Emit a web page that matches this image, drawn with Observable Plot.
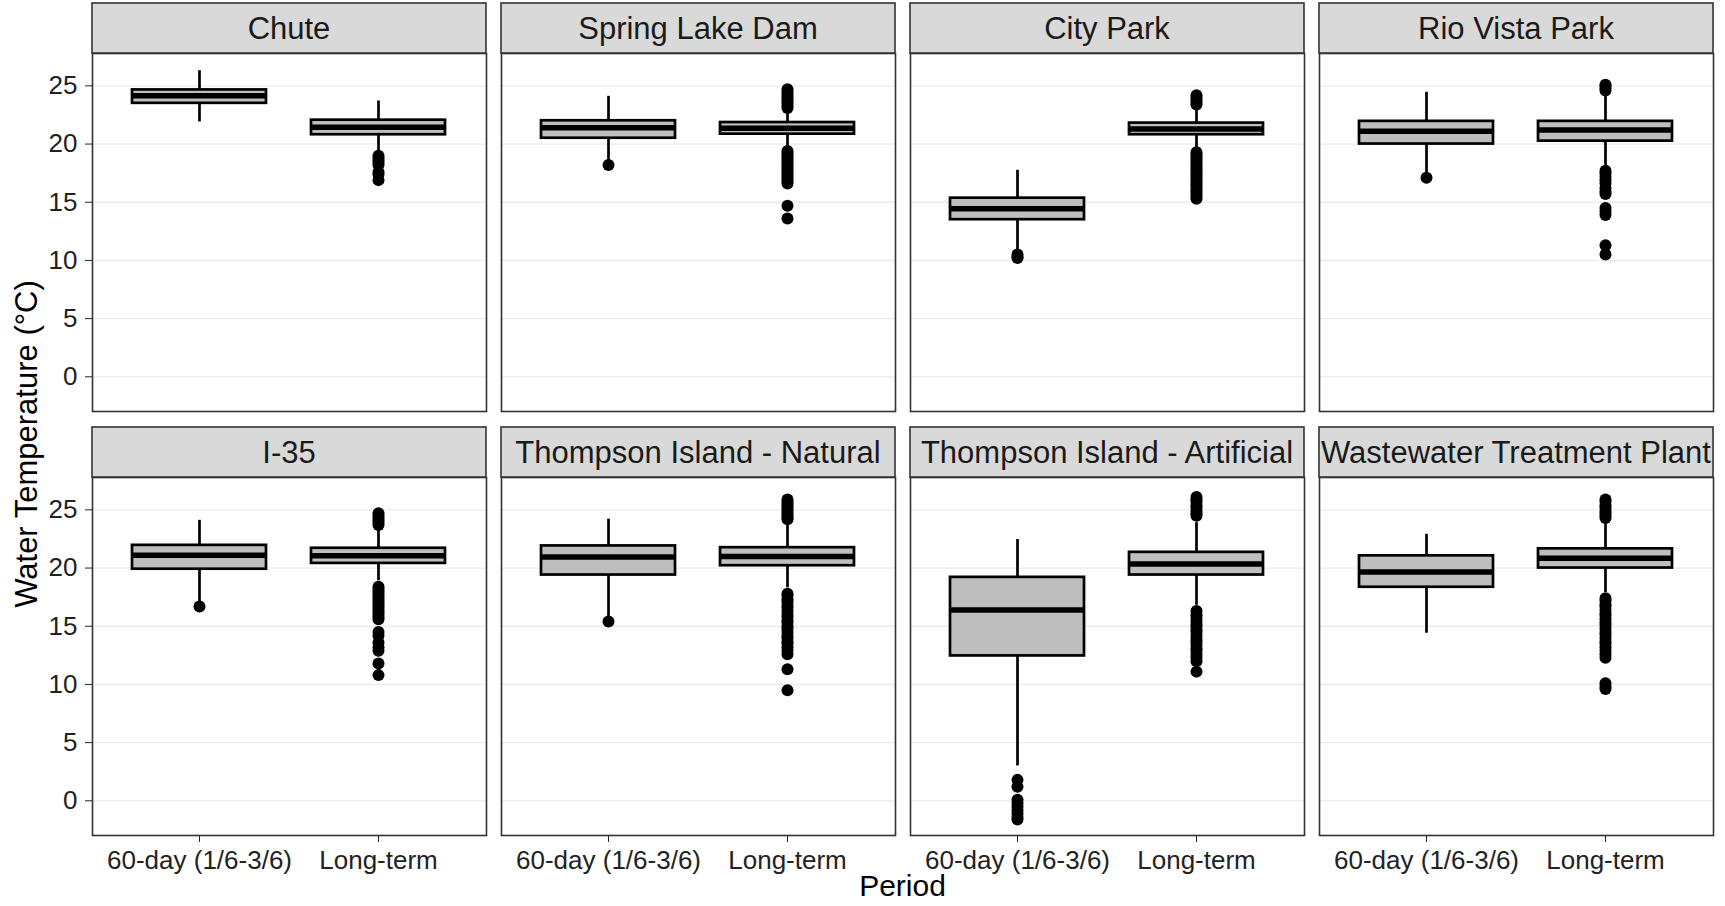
<!DOCTYPE html>
<html><head><meta charset="utf-8">
<script src="https://cdn.jsdelivr.net/npm/d3@7"></script>
<script src="https://cdn.jsdelivr.net/npm/@observablehq/plot@0.6"></script>
<style>
html,body{margin:0;padding:0;background:#fff;}
#chart{width:1725px;height:906px;}
</style></head><body><div id="chart"></div>
<script>
const sites = ["Chute", "Spring Lake Dam", "City Park", "Rio Vista Park",
  "I-35", "Thompson Island - Natural", "Thompson Island - Artificial", "Wastewater Treatment Plant"];
const periods = ["60-day (1/6-3/6)", "Long-term"];
const yTicks = [0, 5, 10, 15, 20, 25];
const xTitle = "Period";
const yTitle = "Water Temperature (°C)";

// [60-day, Long-term] per site
const whiskerLow  = [[21.9, 19.3], [18.5, 19.8], [10.9, 19.7], [17.5, 18.1], [17.0, 18.9], [15.8, 18.3], [3.0, 16.8], [14.4, 17.9]];
const q1          = [[23.5, 20.8], [20.5, 20.85], [13.5, 20.8], [20.0, 20.25], [19.9, 20.4], [19.4, 20.2], [12.45, 19.4], [18.35, 20.0]];
const median      = [[24.15, 21.45], [21.4, 21.35], [14.45, 21.3], [21.1, 21.2], [21.1, 21.05], [20.95, 21.0], [16.4, 20.35], [19.65, 20.85]];
const q3          = [[24.65, 22.05], [22.0, 21.85], [15.35, 21.8], [21.95, 21.95], [21.95, 21.7], [21.9, 21.75], [19.2, 21.35], [21.05, 21.65]];
const whiskerHigh = [[26.3, 23.7], [24.1, 22.9], [17.75, 22.9], [24.45, 24.1], [24.1, 23.4], [24.2, 23.65], [22.45, 23.9], [22.9, 23.8]];

const outliers60 = [
  [],
  [18.2],
  [10.5, 10.3, 10.2],
  [17.1],
  [16.7],
  [15.4],
  [1.8, 1.2, 0.1, -0.2, -0.5, -0.8, -1.1, -1.4, -1.6],
  []
];
const outliersLT = [
  [19.0, 18.8, 18.6, 18.4, 18.2, 17.6, 17.4, 16.9],
  [23.1, 23.3, 23.5, 23.7, 23.9, 24.1, 24.3, 24.5, 24.7,
   19.4, 19.2, 19.0, 18.8, 18.6, 18.4, 18.2, 18.0, 17.8, 17.6, 17.4, 17.2, 17.0, 16.8, 16.6, 14.7, 13.6],
  [24.2, 24.0, 23.8, 23.6, 23.4,
   19.3, 19.1, 18.9, 18.7, 18.5, 18.3, 18.1, 17.9, 17.7, 17.5, 17.3, 17.1, 16.9, 16.7, 16.5, 16.3, 16.1, 15.9, 15.7, 15.5, 15.3],
  [25.1, 25.0, 24.8, 24.6,
   17.7, 17.5, 17.2, 16.9, 16.6, 16.2, 15.9, 15.7, 14.5, 14.2, 13.9, 11.3, 10.5],
  [24.7, 24.5, 24.3, 24.1, 23.9, 23.7,
   18.4, 18.2, 18.0, 17.8, 17.6, 17.4, 17.2, 17.0, 16.8, 16.6, 16.4, 16.2, 16.0, 15.8, 15.6, 14.5, 14.2, 13.6, 13.2, 12.9, 11.8, 10.8],
  [25.9, 25.7, 25.5, 25.3, 25.1, 24.9, 24.7, 24.5, 24.3, 24.2,
   17.8, 17.6, 17.3, 17.1, 16.8, 16.6, 16.3, 16.0, 15.8, 15.5, 15.3, 15.0, 14.8, 14.5, 14.2, 14.0, 13.7, 13.5, 13.2, 12.9, 12.6, 11.3, 9.5],
  [26.1, 25.9, 25.7, 25.4, 25.2, 24.9, 24.7, 24.5,
   16.3, 16.0, 15.8, 15.5, 15.2, 15.0, 14.7, 14.5, 14.2, 13.9, 13.7, 13.4, 13.1, 12.9, 12.6, 12.3, 12.0, 11.1],
  [25.9, 25.7, 25.4, 25.2, 24.9, 24.7, 24.5, 24.3,
   17.4, 17.2, 16.9, 16.7, 16.4, 16.1, 15.9, 15.6, 15.3, 15.1, 14.8, 14.5, 14.3, 14.0, 13.7, 13.5, 13.2, 12.9, 12.6, 12.3, 10.1, 9.8, 9.6]
];

const nCols = 4;
const stats = [];
sites.forEach((site, i) => periods.forEach((period, j) => stats.push({
  site, col: i % nCols, row: Math.floor(i / nCols), period,
  lo: whiskerLow[i][j], q1: q1[i][j], med: median[i][j], q3: q3[i][j], hi: whiskerHigh[i][j]
})));
const points = [];
sites.forEach((site, i) => [outliers60[i], outliersLT[i]].forEach((vals, j) => vals.forEach(v => points.push({
  site, col: i % nCols, row: Math.floor(i / nCols), period: periods[j], value: v
}))));

const font = "'Liberation Sans', Arial, Helvetica, sans-serif";
const chart = Plot.plot({
  width: 1725, height: 906,
  marginLeft: 92, marginRight: 12, marginTop: 53, marginBottom: 71,
  style: {fontFamily: font, fontSize: "26px", color: "#222", background: "#fff"},
  fx: {axis: null, domain: [0, 1, 2, 3], paddingInner: 15 / 409, paddingOuter: 0},
  fy: {axis: null, domain: [0, 1], paddingInner: 66 / 424, paddingOuter: 0},
  x: {domain: periods, paddingInner: 0.25, paddingOuter: 0.225, label: null, tickSize: 7, tickPadding: 8},
  y: {domain: [-2.98, 27.78], ticks: 6, label: null, tickSize: 7, tickPadding: 8},
  marks: [
    Plot.ruleY(yTicks, {stroke: "#ebebeb", strokeWidth: 1.3}),
    Plot.ruleX(stats, {x: "period", y1: "lo", y2: "hi", fx: "col", fy: "row", stroke: "#000", strokeWidth: 2.7}),
    Plot.barY(stats, {x: "period", y1: "q1", y2: "q3", fx: "col", fy: "row", fill: "#bebebe", stroke: "#000", strokeWidth: 2.7}),
    Plot.tickY(stats, {x: "period", y: "med", fx: "col", fy: "row", stroke: "#000", strokeWidth: 5.5}),
    Plot.dot(points, {x: "period", y: "value", fx: "col", fy: "row", r: 6, fill: "#000", stroke: "none"}),
    Plot.frame({stroke: "#333", strokeWidth: 1.6})
  ]
});
document.getElementById("chart").appendChild(chart);

// facet strips and axis titles, positioned from Plot's facet scales
const fxS = chart.scale("fx"), fyS = chart.scale("fy");
const stripH = 50;
const svgSel = d3.select(chart);
const layer = svgSel.append("g").attr("font-family", font);
sites.forEach((site, i) => {
  const col = i % nCols, row = Math.floor(i / nCols);
  const x0 = fxS.apply(col), y0 = fyS.apply(row) - stripH, w = fxS.bandwidth;
  const id = "strip-clip-" + i;
  layer.append("clipPath").attr("id", id).append("rect")
    .attr("x", x0).attr("y", y0).attr("width", w).attr("height", stripH);
  layer.append("rect").attr("x", x0).attr("y", y0).attr("width", w).attr("height", stripH)
    .attr("fill", "#d9d9d9").attr("stroke", "#333").attr("stroke-width", 1.6);
  layer.append("text").attr("clip-path", `url(#${id})`)
    .attr("x", x0 + w / 2).attr("y", y0 + stripH / 2).attr("dy", "0.36em")
    .attr("text-anchor", "middle").attr("font-size", "31px").attr("fill", "#1a1a1a")
    .text(site);
});
const panelLeft = fxS.apply(0), panelRight = fxS.apply(nCols - 1) + fxS.bandwidth;
const panelTop = fyS.apply(0), panelBottom = fyS.apply(1) + fyS.bandwidth;
layer.append("text").attr("x", (panelLeft + panelRight) / 2).attr("y", panelBottom + 61)
  .attr("text-anchor", "middle").attr("font-size", "30px").attr("fill", "#000").text(xTitle);
layer.append("text").attr("transform", `translate(37,${(panelTop + panelBottom) / 2}) rotate(-90)`)
  .attr("text-anchor", "middle").attr("font-size", "31px").attr("fill", "#000").text(yTitle);
</script>
</body></html>
